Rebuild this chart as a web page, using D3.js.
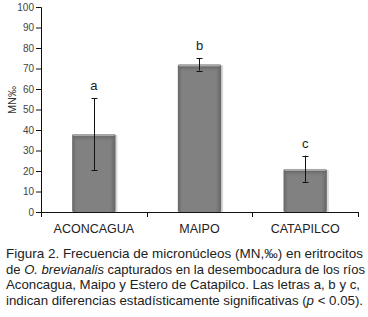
<!DOCTYPE html>
<html>
<head>
<meta charset="utf-8">
<script src="https://cdn.jsdelivr.net/npm/d3@7"></script>
<style>
  body { margin: 0; background: #fff; }
  svg { display: block; font-family: "Liberation Sans", Arial, sans-serif; }
</style>
</head>
<body>
<svg id="chart" width="368" height="317"></svg>
<script>
const rivers = ["ACONCAGUA", "MAIPO", "CATAPILCO"];
const means = [38, 72, 21];
const errors = [17.5, 3, 6.5];
const letters = ["a", "b", "c"];
const yTicks = [0, 10, 20, 30, 40, 50, 60, 70, 80, 90, 100];
const caption = [
  [["Figura 2. Frecuencia de micronúcleos (MN,‰) en eritrocitos", false]],
  [["de ", false], ["O. brevianalis", true], [" capturados en la desembocadura de los ríos", false]],
  [["Aconcagua, Maipo y Estero de Catapilco. Las letras a, b y c,", false]],
  [["indican diferencias estadísticamente significativas (", false], ["p", true], [" < 0.05).", false]]
];
const captionWidths = [357, 359, 354, 357];

const svg = d3.select("#chart");
const margin = { left: 41, top: 7, right: 10, bottom: 105 };
const width = 358 - margin.left;
const height = 212 - margin.top;

const defs = svg.append("defs");
const grad = defs.append("linearGradient").attr("id", "barGrad");
grad.append("stop").attr("offset", "0%").attr("stop-color", "#666");
grad.append("stop").attr("offset", "10%").attr("stop-color", "#818181");
grad.append("stop").attr("offset", "88%").attr("stop-color", "#818181");
grad.append("stop").attr("offset", "100%").attr("stop-color", "#646464");
const topGrad = defs.append("linearGradient").attr("id", "topGrad")
  .attr("x1", 0).attr("y1", 0).attr("x2", 0).attr("y2", 1);
topGrad.append("stop").attr("offset", "0%").attr("stop-color", "#5e5e5e").attr("stop-opacity", 0.8);
topGrad.append("stop").attr("offset", "100%").attr("stop-color", "#818181").attr("stop-opacity", 0);

const g = svg.append("g").attr("transform", `translate(${margin.left},${margin.top})`);

const x = d3.scaleBand().domain(rivers).range([0, width]).paddingInner(0.59).paddingOuter(0.295);
const y = d3.scaleLinear().domain([0, 100]).range([height, 0]);

// bars
const bars = g.selectAll(".bar").data(rivers).join("g").attr("class", "bar");
bars.append("rect")
  .attr("x", d => x(d) + 2)
  .attr("y", (d, i) => y(means[i]) + 1)
  .attr("width", x.bandwidth())
  .attr("height", (d, i) => height - y(means[i]) - 1)
  .attr("fill", "#dadada");
bars.append("rect")
  .attr("x", d => x(d))
  .attr("y", (d, i) => y(means[i]))
  .attr("width", x.bandwidth())
  .attr("height", (d, i) => height - y(means[i]))
  .attr("rx", 1.5)
  .attr("fill", "url(#barGrad)");
bars.append("rect")
  .attr("x", d => x(d) + 1)
  .attr("y", (d, i) => y(means[i]) + 2)
  .attr("width", x.bandwidth() - 2)
  .attr("height", 6)
  .attr("fill", "url(#topGrad)");
bars.append("rect")
  .attr("x", d => x(d) + 1)
  .attr("y", (d, i) => y(means[i]))
  .attr("width", x.bandwidth() - 2)
  .attr("height", 2)
  .attr("fill", "#a8a8a8");

// error bars
const eb = g.selectAll(".err").data(rivers).join("g").attr("class", "err")
  .attr("stroke", "#111").attr("stroke-width", 1);
const cx = d => Math.round(x(d) + x.bandwidth() / 2) + 0.5;
eb.append("line")
  .attr("x1", cx).attr("x2", cx)
  .attr("y1", (d, i) => y(means[i] + errors[i]))
  .attr("y2", (d, i) => y(means[i] - errors[i]));
[1, -1].forEach(s => {
  eb.append("line")
    .attr("x1", d => cx(d) - 3).attr("x2", d => cx(d) + 3)
    .attr("y1", (d, i) => Math.round(y(means[i] + s * errors[i])) + 0.5)
    .attr("y2", (d, i) => Math.round(y(means[i] + s * errors[i])) + 0.5);
});

// significance letters
g.selectAll(".letter").data(rivers).join("text")
  .attr("x", d => x(d) + x.bandwidth() / 2)
  .attr("y", (d, i) => y(means[i] + errors[i]) - 8)
  .attr("text-anchor", "middle")
  .attr("font-size", 13)
  .attr("fill", "#222")
  .text((d, i) => letters[i]);

// y axis
const yAxis = g.append("g").call(d3.axisLeft(y).tickValues(yTicks).tickSize(5).tickPadding(2));
yAxis.select(".domain").attr("stroke", "#111");
yAxis.selectAll(".tick line").attr("stroke", "#111");
yAxis.selectAll(".tick text").attr("font-size", 10).attr("fill", "#444").attr("font-family", "Liberation Sans, Arial, sans-serif");

// x axis
const xAxis = g.append("g").attr("transform", `translate(0,${height})`)
  .call(d3.axisBottom(x).tickSize(0).tickPadding(12));
xAxis.select(".domain").attr("stroke", "#111").attr("d", `M0,0.5H${width}`);
xAxis.selectAll(".tick text").attr("font-size", 12.5).attr("fill", "#222").attr("font-family", "Liberation Sans, Arial, sans-serif");
const step = x.step();
xAxis.selectAll(".sep").data(d3.range(4)).join("line")
  .attr("x1", i => Math.round(i * step) + 0.5).attr("x2", i => Math.round(i * step) + 0.5)
  .attr("y1", 0).attr("y2", 5).attr("stroke", "#111");

// y label
svg.append("text")
  .attr("transform", "translate(16,100) rotate(-90)")
  .attr("text-anchor", "middle")
  .attr("font-size", 11)
  .attr("fill", "#333")
  .text("MN‰");

// caption
caption.forEach((line, i) => {
  const t = svg.append("text")
    .attr("x", 6)
    .attr("y", 258 + i * 15.5)
    .attr("font-size", 13)
    .attr("fill", "#222")
    .attr("textLength", captionWidths[i])
    .attr("lengthAdjust", "spacingAndGlyphs");
  line.forEach(([s, it]) => t.append("tspan").attr("font-style", it ? "italic" : null).text(s));
});
</script>
</body>
</html>
